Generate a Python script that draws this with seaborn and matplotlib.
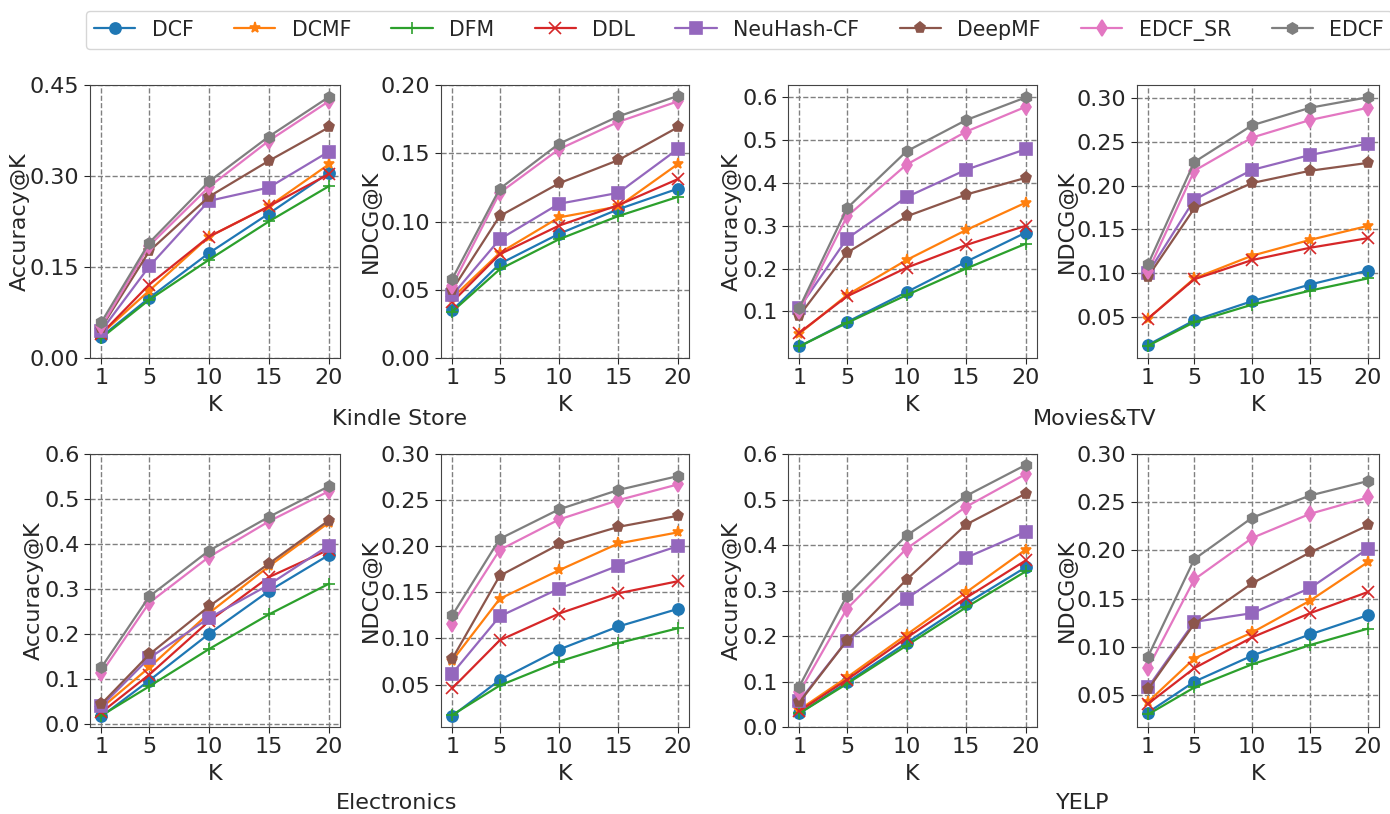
import numpy as np
import pandas as pd
import matplotlib
matplotlib.use("Agg")
import matplotlib.pyplot as plt
import seaborn as sns

K = [1, 5, 10, 15, 20]
methods = ["DCF", "DCMF", "DFM", "DDL", "NeuHash-CF", "DeepMF", "EDCF_SR", "EDCF"]

# Kindle Store
kindle_acc = {
    "DCF":        [0.035, 0.099, 0.173, 0.238, 0.305],
    "DCMF":       [0.040, 0.111, 0.200, 0.250, 0.319],
    "DFM":        [0.033, 0.096, 0.162, 0.225, 0.283],
    "DDL":        [0.040, 0.121, 0.200, 0.250, 0.303],
    "NeuHash-CF": [0.045, 0.151, 0.259, 0.281, 0.340],
    "DeepMF":     [0.050, 0.176, 0.266, 0.325, 0.380],
    "EDCF_SR":    [0.052, 0.185, 0.282, 0.358, 0.423],
    "EDCF":       [0.059, 0.190, 0.291, 0.365, 0.430],
}
kindle_ndcg = {
    "DCF":        [0.035, 0.069, 0.091, 0.109, 0.124],
    "DCMF":       [0.044, 0.077, 0.103, 0.111, 0.142],
    "DFM":        [0.034, 0.065, 0.087, 0.104, 0.118],
    "DDL":        [0.041, 0.076, 0.097, 0.112, 0.131],
    "NeuHash-CF": [0.046, 0.087, 0.113, 0.121, 0.153],
    "DeepMF":     [0.050, 0.104, 0.128, 0.145, 0.169],
    "EDCF_SR":    [0.053, 0.121, 0.153, 0.173, 0.188],
    "EDCF":       [0.058, 0.124, 0.157, 0.177, 0.192],
}
# Movies&TV
movies_acc = {
    "DCF":        [0.018, 0.075, 0.145, 0.216, 0.284],
    "DCMF":       [0.048, 0.138, 0.220, 0.290, 0.354],
    "DFM":        [0.018, 0.073, 0.138, 0.200, 0.258],
    "DDL":        [0.050, 0.135, 0.202, 0.255, 0.300],
    "NeuHash-CF": [0.108, 0.270, 0.367, 0.431, 0.479],
    "DeepMF":     [0.090, 0.237, 0.322, 0.373, 0.412],
    "EDCF_SR":    [0.100, 0.322, 0.443, 0.520, 0.578],
    "EDCF":       [0.108, 0.341, 0.474, 0.547, 0.600],
}
movies_ndcg = {
    "DCF":        [0.018, 0.046, 0.068, 0.087, 0.103],
    "DCMF":       [0.048, 0.094, 0.120, 0.138, 0.154],
    "DFM":        [0.017, 0.044, 0.064, 0.080, 0.094],
    "DDL":        [0.048, 0.093, 0.115, 0.129, 0.140],
    "NeuHash-CF": [0.100, 0.184, 0.218, 0.235, 0.248],
    "DeepMF":     [0.096, 0.174, 0.203, 0.217, 0.226],
    "EDCF_SR":    [0.102, 0.217, 0.255, 0.275, 0.289],
    "EDCF":       [0.110, 0.227, 0.269, 0.289, 0.301],
}
# Electronics
elec_acc = {
    "DCF":        [0.016, 0.096, 0.200, 0.295, 0.375],
    "DCMF":       [0.035, 0.125, 0.246, 0.350, 0.447],
    "DFM":        [0.018, 0.083, 0.166, 0.243, 0.311],
    "DDL":        [0.025, 0.109, 0.228, 0.326, 0.387],
    "NeuHash-CF": [0.039, 0.146, 0.235, 0.309, 0.396],
    "DeepMF":     [0.044, 0.154, 0.261, 0.356, 0.452],
    "EDCF_SR":    [0.113, 0.269, 0.371, 0.450, 0.517],
    "EDCF":       [0.125, 0.283, 0.385, 0.460, 0.528],
}
elec_ndcg = {
    "DCF":        [0.016, 0.055, 0.088, 0.113, 0.132],
    "DCMF":       [0.076, 0.143, 0.174, 0.203, 0.215],
    "DFM":        [0.017, 0.049, 0.075, 0.095, 0.111],
    "DDL":        [0.046, 0.098, 0.127, 0.149, 0.162],
    "NeuHash-CF": [0.062, 0.124, 0.154, 0.179, 0.200],
    "DeepMF":     [0.078, 0.168, 0.202, 0.221, 0.233],
    "EDCF_SR":    [0.116, 0.196, 0.229, 0.250, 0.267],
    "EDCF":       [0.125, 0.208, 0.240, 0.261, 0.276],
}
# YELP
yelp_acc = {
    "DCF":        [0.030, 0.098, 0.185, 0.271, 0.351],
    "DCMF":       [0.038, 0.109, 0.203, 0.296, 0.390],
    "DFM":        [0.030, 0.095, 0.179, 0.263, 0.342],
    "DDL":        [0.035, 0.104, 0.196, 0.284, 0.366],
    "NeuHash-CF": [0.057, 0.190, 0.282, 0.372, 0.429],
    "DeepMF":     [0.054, 0.190, 0.324, 0.445, 0.513],
    "EDCF_SR":    [0.076, 0.260, 0.392, 0.484, 0.556],
    "EDCF":       [0.089, 0.289, 0.421, 0.508, 0.576],
}
yelp_ndcg = {
    "DCF":        [0.032, 0.064, 0.091, 0.113, 0.133],
    "DCMF":       [0.043, 0.088, 0.115, 0.148, 0.188],
    "DFM":        [0.030, 0.058, 0.082, 0.102, 0.119],
    "DDL":        [0.041, 0.078, 0.110, 0.135, 0.157],
    "NeuHash-CF": [0.058, 0.126, 0.135, 0.161, 0.202],
    "DeepMF":     [0.056, 0.124, 0.166, 0.198, 0.226],
    "EDCF_SR":    [0.078, 0.170, 0.213, 0.238, 0.255],
    "EDCF":       [0.090, 0.191, 0.234, 0.257, 0.272],
}

datasets = ["Kindle Store", "Movies&TV", "Electronics", "YELP"]

sns.set_style("ticks")
plt.rcParams["font.family"] = ["DejaVu Sans"]

palette = dict(zip(methods, sns.color_palette("tab10", 8)))
markers = {"DCF": "o", "DCMF": "*", "DFM": "+", "DDL": "x",
           "NeuHash-CF": "s", "DeepMF": "p", "EDCF_SR": "d", "EDCF": "h"}

W, H = 1390, 814
fig = plt.figure(figsize=(W / 100, H / 100), dpi=100)

cols_px = [(90, 340), (441, 689), (788, 1037), (1137, 1379)]
rows_px = [(85, 358), (454, 727)]

panels = [
    (kindle_acc, "Accuracy@K", (0, 0.45), [0, 0.15, 0.30, 0.45], 0, 0),
    (kindle_ndcg, "NDCG@K", (0, 0.20), [0, 0.05, 0.10, 0.15, 0.20], 0, 1),
    (movies_acc, "Accuracy@K", (-0.009, 0.629), [0.1, 0.2, 0.3, 0.4, 0.5, 0.6], 0, 2),
    (movies_ndcg, "NDCG@K", (0.003, 0.315), [0.05, 0.10, 0.15, 0.20, 0.25, 0.30], 0, 3),
    (elec_acc, "Accuracy@K", (-0.0074, 0.6), [0.0, 0.1, 0.2, 0.3, 0.4, 0.5, 0.6], 1, 0),
    (elec_ndcg, "NDCG@K", (0.004, 0.30), [0.05, 0.10, 0.15, 0.20, 0.25, 0.30], 1, 1),
    (yelp_acc, "Accuracy@K", (0, 0.6), [0.0, 0.1, 0.2, 0.3, 0.4, 0.5, 0.6], 1, 2),
    (yelp_ndcg, "NDCG@K", (0.017, 0.30), [0.05, 0.10, 0.15, 0.20, 0.25, 0.30], 1, 3),
]

handles = labels = None
for data, ylab, ylim, yticks, r, c in panels:
    x0, x1 = cols_px[c]
    y0, y1 = rows_px[r]
    ax = fig.add_axes([x0 / W, 1 - y1 / H, (x1 - x0) / W, (y1 - y0) / H])
    for m in methods:
        sns.lineplot(x=K, y=data[m], color=palette[m], marker=markers[m],
                     markersize=8, linewidth=1.6, markeredgewidth=1.2,
                     markeredgecolor=palette[m], label=m, ax=ax)
    handles, labels = ax.get_legend_handles_labels()
    if ax.get_legend() is not None:
        ax.get_legend().remove()
    ax.set_ylim(*ylim)
    ax.set_yticks(yticks)
    ax.set_xticks(K)
    ax.set_xlim(0.05, 20.95)
    ax.grid(True, linestyle="--", color="gray", linewidth=1)
    ax.set_xlabel("K", fontsize=16, labelpad=5)
    ax.set_ylabel(ylab, fontsize=16, labelpad=0)
    ax.tick_params(labelsize=16, direction="out", length=4)
    for s in ax.spines.values():
        s.set_visible(True)
        s.set_color("#444444")

# group titles
fig.text(399 / W, 1 - 419 / H, datasets[0], ha="center", va="center", fontsize=16)
fig.text(1095 / W, 1 - 419 / H, datasets[1], ha="center", va="center", fontsize=16)
fig.text(397 / W, 1 - 803 / H, datasets[2], ha="center", va="center", fontsize=16)
fig.text(1083 / W, 1 - 803 / H, datasets[3], ha="center", va="center", fontsize=16)

fig.legend(handles, labels, loc="upper center", bbox_to_anchor=(739 / W, 1 - 1 / H),
           ncol=8, fontsize=14.8, frameon=True, handlelength=2.0, columnspacing=1.97,
           borderpad=0.4, edgecolor="#cccccc", fancybox=True)

fig.savefig("out.png", dpi=100)
